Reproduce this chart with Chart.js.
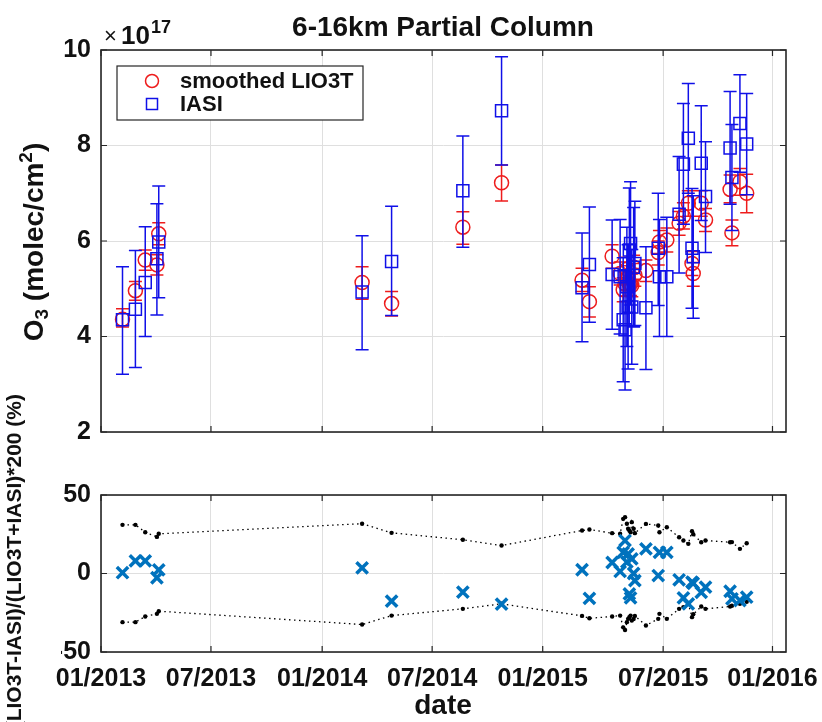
<!DOCTYPE html>
<html><head><meta charset="utf-8">
<script src="https://cdn.jsdelivr.net/npm/chart.js@4/dist/chart.umd.min.js"></script>
<style>
html,body{margin:0;padding:0;background:#fff;}
#wrap{position:relative;width:822px;height:722px;overflow:hidden;}
canvas{position:absolute;left:0;top:0;}
</style></head><body>
<div id="wrap"><canvas id="topChart" width="822" height="722"></canvas><canvas id="botChart" width="822" height="722"></canvas></div>
<script>
// ---- data ----
const dates = ['2013-02-05','2013-02-26','2013-03-14','2013-04-02','2013-04-05',
  '2014-03-02','2014-04-19','2014-08-13','2014-10-15',
  '2015-02-23','2015-03-07','2015-04-13','2015-04-26','2015-05-01','2015-05-04','2015-05-07',
  '2015-05-09','2015-05-11','2015-05-13','2015-05-15','2015-05-18','2015-05-20','2015-06-07',
  '2015-06-27','2015-06-29','2015-07-11','2015-07-31','2015-08-07','2015-08-15','2015-08-21',
  '2015-08-23','2015-09-05','2015-09-12','2015-10-22','2015-10-25','2015-11-07','2015-11-18'];
// smoothed LIO3T (x1e17 molec/cm2) and error bar ends
const lio3t     = [4.36,4.96,5.60,5.50,6.15, 5.13,4.69,6.29,7.22, 5.18,4.73,5.68,5.32,4.98,5.10,5.41,5.23,5.10,5.10,5.07,5.45,5.29,5.38,5.76,5.98,6.02,6.37,6.52,6.79,5.53,5.32,6.79,6.44,7.08,6.17,7.24,7.00];
const lio3tLow  = [4.20,4.76,5.39,5.29,5.92, 4.78,4.43,5.93,6.84, 4.94,4.41,5.43,5.08,4.73,4.85,5.16,4.98,4.85,4.86,4.83,5.20,5.05,5.15,5.50,5.74,5.77,6.12,6.25,6.52,5.28,5.05,6.52,6.20,6.80,5.90,6.96,6.59];
const lio3tHigh = [4.58,5.15,5.81,5.71,6.38, 5.46,4.94,6.61,7.59, 5.43,5.04,5.92,5.56,5.23,5.35,5.66,5.48,5.35,5.34,5.31,5.70,5.53,5.60,6.00,6.22,6.27,6.62,6.80,7.05,5.78,5.55,7.05,6.68,7.38,6.44,7.52,7.40];
// IASI
const iasi      = [4.35,4.57,5.13,5.63,5.98, 4.93,5.57,7.05,8.73, 5.02,5.51,5.30,5.25,4.35,4.14,5.04,4.62,5.81,5.95,4.62,5.45,5.53,4.60,5.85,5.25,5.25,6.56,7.61,8.15,5.85,5.67,7.63,6.93,7.95,7.33,8.46,8.03];
const iasiLow   = [3.21,3.35,4.00,4.45,4.81, 3.72,4.44,5.87,7.59, 3.89,4.30,4.15,4.05,3.05,2.88,3.79,3.32,4.51,4.66,3.42,4.20,4.23,3.31,4.65,4.00,4.00,5.33,6.35,7.00,4.59,4.38,6.43,5.76,6.77,6.22,7.44,6.97];
const iasiHigh  = [5.46,5.80,6.30,6.78,7.15, 6.11,6.73,8.20,9.86, 6.17,6.71,6.44,6.45,5.65,5.40,6.29,5.92,7.11,7.24,5.82,6.70,6.83,5.88,7.00,6.45,6.50,7.77,8.88,9.30,7.10,6.95,8.83,8.08,9.13,8.44,9.48,9.09];
// relative difference (%) and its uncertainty envelope
const relDiff   = [0.5,8.0,8.0,-2.7,2.3, 3.6,-17.6,-11.9,-19.5, 2.4,-15.8,7.0,1.3,13.5,21.0,7.2,12.5,-13.0,-15.5,9.3,0.0,-4.5,15.7,-1.3,13.5,13.5,-4.0,-15.5,-19.3,-5.5,-6.2,-12.0,-8.7,-11.3,-16.1,-17.2,-15.1];
const envUpper  = [31.0,31.0,26.3,23.3,25.3, 31.7,25.9,21.5,17.8, 27.4,28.0,25.7,25.3,34.8,35.9,31.7,28.5,27.4,26.3,32.7,28.5,25.7,31.6,30.6,26.3,29.5,23.1,21.0,18.9,26.9,25.0,19.9,21.0,19.9,20.0,15.7,19.3];
const envLower  = [-31.0,-31.0,-27.4,-25.7,-24.0, -32.5,-26.8,-22.5,-19.3, -27.0,-28.5,-27.4,-26.8,-34.3,-36.0,-31.0,-28.9,-27.8,-26.8,-30.0,-29.0,-27.0,-33.1,-28.9,-25.7,-28.9,-22.5,-21.4,-19.3,-27.8,-26.0,-21.0,-22.5,-21.0,-20.5,-19.3,-18.0];
// x-axis ticks (placed where the picture puts them) and labels
const tickDates  = ['2013-01-01','2013-06-29','2013-12-27','2014-06-24','2014-12-21','2015-07-05','2015-12-30'];
const tickLabels = ['01/2013','07/2013','01/2014','07/2014','01/2015','07/2015','01/2016'];
const axisStart = '2013-01-01', axisEnd = '2016-01-21';
const yTicksTop = [2,4,6,8,10];
const yTicksBot = [-50,0,50];

// ---- helpers ----
const FONT = "'Liberation Sans', Arial, Helvetica, sans-serif";
const TXT = '#111';
const ORIGIN = Date.UTC(2013,0,1);
function dayOf(s){const [y,m,d]=s.split('-').map(Number);return (Date.UTC(y,m-1,d)-ORIGIN)/86400000;}
const tickDays = tickDates.map(dayOf);
function xScaleOpts(showLabels){
  return {
    type:'linear', min:dayOf(axisStart), max:dayOf(axisEnd),
    afterBuildTicks:s=>{s.ticks = tickDays.map(v=>({value:v}));},
    afterFit:s=>{s.height = showLabels?40:0; s.paddingLeft = 0; s.paddingRight = 0;},
    grid:{color:'#dfdfdf',lineWidth:1,drawTicks:false},
    border:{display:false},
    ticks:{display:showLabels,autoSkip:false,maxRotation:0,padding:12,color:TXT,
      font:{family:FONT,size:25,weight:'bold'},
      callback:(v)=>{const i=tickDays.indexOf(v);return i>=0?tickLabels[i]:'';}}
  };
}
function yScaleOpts(min,max,vals){
  return {
    type:'linear', min, max,
    afterBuildTicks:s=>{s.ticks = vals.map(v=>({value:v}));},
    afterFit:s=>{s.width = 40; s.paddingTop = 0; s.paddingBottom = 0;},
    grid:{color:'#dfdfdf',lineWidth:1,drawTicks:false},
    border:{display:false},
    ticks:{padding:10,color:TXT,font:{family:FONT,size:25,weight:'bold'},callback:v=>String(v)}
  };
}
const frame = {
  id:'frame',
  afterDatasetsDraw(chart){
    const {ctx, chartArea:a, scales:{x,y}} = chart;
    ctx.save(); ctx.strokeStyle='#262626'; ctx.lineWidth=1.6;
    ctx.strokeRect(a.left,a.top,a.right-a.left,a.bottom-a.top);
    ctx.beginPath(); ctx.lineWidth=1.2;
    x.ticks.forEach(t=>{const p=x.getPixelForValue(t.value);ctx.moveTo(p,a.top);ctx.lineTo(p,a.top+6);ctx.moveTo(p,a.bottom);ctx.lineTo(p,a.bottom-6);});
    y.ticks.forEach(t=>{const p=y.getPixelForValue(t.value);ctx.moveTo(a.left,p);ctx.lineTo(a.left+6,p);ctx.moveTo(a.right,p);ctx.lineTo(a.right-6,p);});
    ctx.stroke(); ctx.restore();
  }
};
const errorBars = {
  id:'errorBars',
  beforeDatasetDraw(chart,args){
    const ds = chart.data.datasets[args.index];
    if(!ds.errLow) return;
    const ctx = chart.ctx, ys = chart.scales.y, cap = 6.5;
    ctx.save(); ctx.strokeStyle = ds.borderColor; ctx.lineWidth = 1.5;
    ctx.beginPath();
    args.meta.data.forEach((pt,i)=>{
      const x = pt.x, y1 = ys.getPixelForValue(ds.errLow[i]), y2 = ys.getPixelForValue(ds.errHigh[i]);
      ctx.moveTo(x,y1); ctx.lineTo(x,y2);
      ctx.moveTo(x-cap,y1); ctx.lineTo(x+cap,y1);
      ctx.moveTo(x-cap,y2); ctx.lineTo(x+cap,y2);
    });
    ctx.stroke(); ctx.restore();
  }
};
function drawRotated(ctx, parts, x, y, align){
  ctx.save(); ctx.translate(x,y); ctx.rotate(-Math.PI/2);
  let total=0;
  parts.forEach(p=>{ctx.font=`bold ${p.size}px ${FONT}`;p.w=ctx.measureText(p.t).width;total+=p.w;});
  let cx = align==='end' ? -total : -total/2;
  ctx.fillStyle=TXT; ctx.textAlign='left'; ctx.textBaseline='alphabetic';
  parts.forEach(p=>{ctx.font=`bold ${p.size}px ${FONT}`;ctx.fillText(p.t,cx,p.dy||0);cx+=p.w;});
  ctx.restore();
}
const topTexts = {
  id:'topTexts',
  afterDraw(chart){
    const ctx = chart.ctx;
    ctx.save(); ctx.fillStyle=TXT; ctx.textBaseline='alphabetic';
    ctx.font=`bold 28px ${FONT}`; ctx.textAlign='center';
    ctx.fillText('6-16km Partial Column',443,36);
    ctx.textAlign='left';
    ctx.font=`22px ${FONT}`; ctx.fillText('\u00d7',104,43);
    ctx.font=`bold 26px ${FONT}`; ctx.fillText('10',121,44);
    ctx.font=`bold 18px ${FONT}`; ctx.fillText('17',151,33);
    // legend
    ctx.fillStyle='#fff'; ctx.fillRect(117,66,246,54);
    ctx.strokeStyle='#262626'; ctx.lineWidth=1.2; ctx.strokeRect(117,66,246,54);
    const ds = chart.data.datasets;
    const lio = ds.find(d=>d.key==='lio'), ia = ds.find(d=>d.key==='iasi');
    ctx.lineWidth=1.5;
    ctx.strokeStyle=lio.borderColor; ctx.beginPath(); ctx.arc(152,81,6.5,0,Math.PI*2); ctx.stroke();
    ctx.strokeStyle=ia.borderColor; ctx.strokeRect(146.5,98.5,11,11);
    ctx.fillStyle=TXT; ctx.font=`bold 22px ${FONT}`; ctx.textBaseline='middle';
    ctx.fillText(lio.label,180,82); ctx.fillText(ia.label,180,105);
    ctx.restore();
    drawRotated(ctx,[{t:'O',size:28},{t:'3',size:19,dy:5},{t:' (molec/cm',size:28},{t:'2',size:19,dy:-11},{t:')',size:28}],43,242,'center');
  }
};
const botTexts = {
  id:'botTexts',
  afterDraw(chart){
    const ctx = chart.ctx;
    ctx.save(); ctx.fillStyle=TXT; ctx.font=`bold 28px ${FONT}`; ctx.textAlign='center'; ctx.textBaseline='alphabetic';
    ctx.fillText('date',443,714);
    ctx.restore();
    drawRotated(ctx,[{t:'(LIO3T-IASI)/(LIO3T+IASI)*200 (%)',size:21}],21,394,'end');
  }
};

// ---- top chart ----
new Chart(document.getElementById('topChart'),{
  type:'scatter',
  data:{datasets:[
    {key:'lio',label:'smoothed LIO3T',data:dates.map((d,i)=>({x:dayOf(d),y:lio3t[i]})),errLow:lio3tLow,errHigh:lio3tHigh,
     borderColor:'#ee1c1c',backgroundColor:'rgba(0,0,0,0)',pointStyle:'circle',pointRadius:7,borderWidth:1.5,order:1},
    {key:'iasi',label:'IASI',data:dates.map((d,i)=>({x:dayOf(d),y:iasi[i]})),errLow:iasiLow,errHigh:iasiHigh,
     borderColor:'#1010e8',backgroundColor:'rgba(0,0,0,0)',pointStyle:'rect',pointRadius:8.5,borderWidth:1.5,order:0}
  ]},
  options:{
    responsive:false,animation:false,events:[],
    layout:{padding:{left:61,right:36,top:50,bottom:290}},
    plugins:{legend:{display:false},tooltip:{enabled:false},title:{display:false}},
    scales:{x:xScaleOpts(false),y:yScaleOpts(2,10,yTicksTop)}
  },
  plugins:[errorBars,frame,topTexts]
});

// ---- bottom chart ----
new Chart(document.getElementById('botChart'),{
  type:'scatter',
  data:{datasets:[
    {label:'difference',data:dates.map((d,i)=>({x:dayOf(d),y:relDiff[i]})),
     borderColor:'#0072BD',backgroundColor:'#0072BD',pointStyle:'crossRot',pointRadius:8,borderWidth:3.5,order:0},
    {label:'upper',data:dates.map((d,i)=>({x:dayOf(d),y:envUpper[i]})),showLine:true,
     borderColor:'#000',backgroundColor:'#000',borderDash:[1.5,3.5],borderWidth:1.3,pointRadius:2.2,pointBorderWidth:0,order:1},
    {label:'lower',data:dates.map((d,i)=>({x:dayOf(d),y:envLower[i]})),showLine:true,
     borderColor:'#000',backgroundColor:'#000',borderDash:[1.5,3.5],borderWidth:1.3,pointRadius:2.2,pointBorderWidth:0,order:1}
  ]},
  options:{
    responsive:false,animation:false,events:[],
    layout:{padding:{left:61,right:36,top:495,bottom:30}},
    plugins:{legend:{display:false},tooltip:{enabled:false},title:{display:false}},
    scales:{x:xScaleOpts(true),y:yScaleOpts(-50,50,yTicksBot)}
  },
  plugins:[frame,botTexts]
});
</script>
</body></html>
